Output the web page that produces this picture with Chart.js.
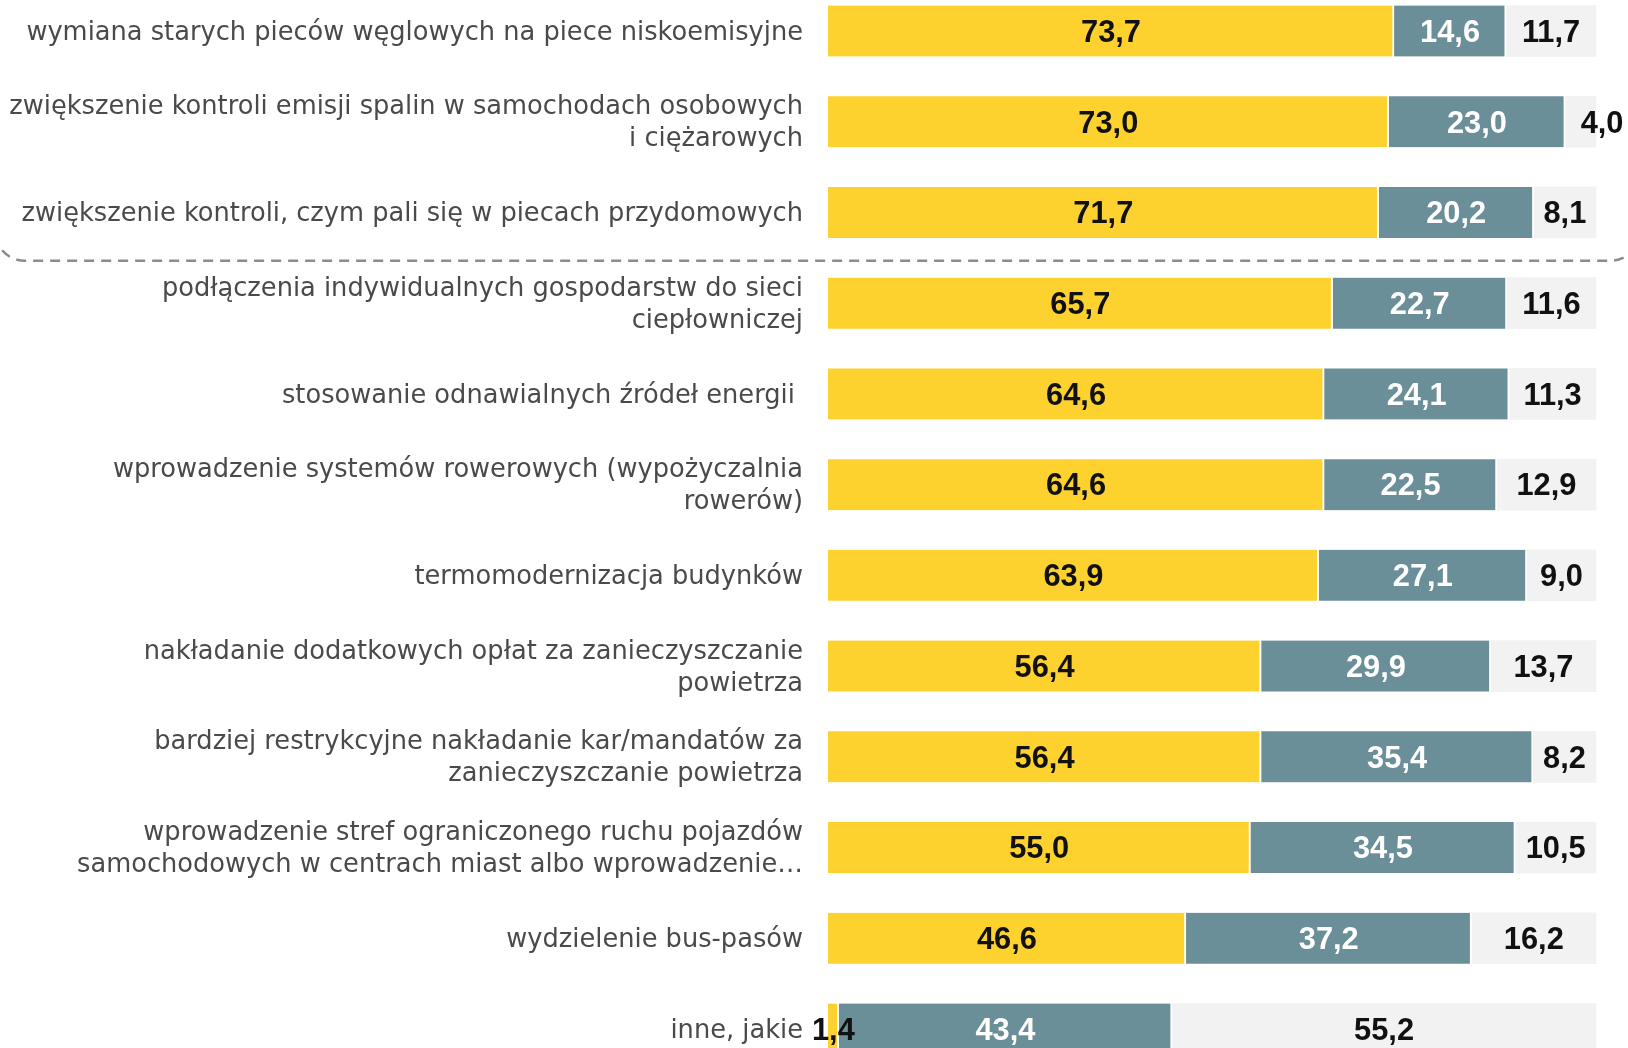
<!DOCTYPE html>
<html lang="pl">
<head>
<meta charset="utf-8">
<title>Działania na rzecz poprawy jakości powietrza</title>
<script src="https://cdn.jsdelivr.net/npm/chart.js@4.4.1/dist/chart.umd.min.js"></script>
<style>
  html, body { margin: 0; padding: 0; background: #fff; overflow: hidden; }
  #wrap { position: relative; width: 1628px; height: 1048px; }
</style>
</head>
<body>
<div id="wrap"><canvas id="myChart"></canvas></div>
<script>
// categories (multi-line labels are arrays)
const categories = [
    'wymiana starych pieców węglowych na piece niskoemisyjne',
    ['zwiększenie kontroli emisji spalin w samochodach osobowych', 'i ciężarowych'],
    'zwiększenie kontroli, czym pali się w piecach przydomowych',
    ['podłączenia indywidualnych gospodarstw do sieci', 'ciepłowniczej'],
    'stosowanie odnawialnych źródeł energii ',
    ['wprowadzenie systemów rowerowych (wypożyczalnia', 'rowerów)'],
    'termomodernizacja budynków',
    ['nakładanie dodatkowych opłat za zanieczyszczanie', 'powietrza'],
    ['bardziej restrykcyjne nakładanie kar/mandatów za', 'zanieczyszczanie powietrza'],
    ['wprowadzenie stref ograniczonego ruchu pojazdów', 'samochodowych w centrach miast albo wprowadzenie…'],
    'wydzielenie bus-pasów',
    'inne, jakie'
];

// shares in %
const seriesYellow = [73.7, 73.0, 71.7, 65.7, 64.6, 64.6, 63.9, 56.4, 56.4, 55.0, 46.6, 1.4];
const seriesBlue = [14.6, 23.0, 20.2, 22.7, 24.1, 22.5, 27.1, 29.9, 35.4, 34.5, 37.2, 43.4];
const seriesGrey = [11.7, 4.0, 8.1, 11.6, 11.3, 12.9, 9.0, 13.7, 8.2, 10.5, 16.2, 55.2];

const xTicks = [0, 100];

// size the axis labels so the widest line is ~795px
const labelFamily = '"DejaVu Sans", sans-serif';
const probe = document.createElement('canvas').getContext('2d');
probe.font = '100px ' + labelFamily;
const labelSize = Math.round(100 * 795 / probe.measureText(categories[1][0]).width * 10) / 10;

// bold numbers, "73,7" is about 60px wide
const valueFont = 'bold 32px "Liberation Sans", Arial, sans-serif';
probe.font = valueFont;
const squeeze = Math.min(1, 60 / probe.measureText('73,7').width);

// numbers inside the bars
const valueLabels = {
    id: 'valueLabels',
    afterDatasetsDraw(chart) {
        const ctx = chart.ctx;
        const last = chart.data.datasets.length - 1;
        ctx.save();
        ctx.font = valueFont;
        ctx.textBaseline = 'middle';
        ctx.textAlign = 'center';
        chart.data.datasets.forEach((ds, di) => {
            const meta = chart.getDatasetMeta(di);
            meta.data.forEach((bar, i) => {
                const text = ds.data[i].toFixed(1).replace('.', ',');
                const w = ctx.measureText(text).width * squeeze;
                let cx = (bar.x + bar.base) / 2;
                if (di === last && w > Math.abs(bar.x - bar.base)) {
                    cx += w / 2; // narrow end segment: push label to the right
                }
                ctx.save();
                ctx.translate(cx, bar.y + 2);
                ctx.scale(squeeze, 1);
                ctx.fillStyle = ds.labelColor;
                ctx.fillText(text, 0, 0);
                ctx.restore();
            });
        });
        ctx.restore();
    }
};

// dashed frame around the top three rows
const topFrame = {
    id: 'topFrame',
    afterDraw(chart) {
        const ctx = chart.ctx;
        const y = chart.scales.y;
        const lineY = (y.getPixelForValue(2) + y.getPixelForValue(3)) / 2 + 3;
        const left = -5, right = chart.width + 12, r = 30;
        ctx.save();
        ctx.strokeStyle = '#8c8c8c';
        ctx.lineWidth = 2.5;
        ctx.setLineDash([10, 7]);
        ctx.beginPath();
        ctx.moveTo(left, -20);
        ctx.lineTo(left, lineY - r);
        ctx.arcTo(left, lineY, left + r, lineY, r);
        ctx.lineTo(right - r, lineY);
        ctx.arcTo(right, lineY, right, lineY - r, r);
        ctx.lineTo(right, -20);
        ctx.stroke();
        ctx.restore();
    }
};

var ctx = document.getElementById('myChart').getContext('2d');
var chart = new Chart(ctx, {
    type: 'bar',
    data: {
        labels: categories,
        datasets: [{
            label: 'tak',
            data: seriesYellow,
            backgroundColor: '#fed22e',
            borderColor: '#ffffff',
            borderWidth: { top: 0, bottom: 0, left: 0, right: 2 },
            borderSkipped: false,
            labelColor: '#111111'
        }, {
            label: 'nie',
            data: seriesBlue,
            backgroundColor: '#6b8f99',
            borderColor: '#ffffff',
            borderWidth: { top: 0, bottom: 0, left: 0, right: 2 },
            borderSkipped: false,
            labelColor: '#ffffff'
        }, {
            label: 'trudno powiedzieć',
            data: seriesGrey,
            backgroundColor: '#f2f2f2',
            borderWidth: 0,
            labelColor: '#111111'
        }]
    },
    options: {
        indexAxis: 'y',
        responsive: true,
        maintainAspectRatio: false,
        animation: false,
        clip: false,
        barThickness: 51,
        layout: { padding: { top: 31, bottom: 19, left: 0, right: 32 } },
        plugins: {
            legend: { display: false },
            tooltip: { enabled: false }
        },
        scales: {
            x: {
                stacked: true,
                display: false,
                min: xTicks[0],
                max: xTicks[1]
            },
            y: {
                stacked: true,
                offset: false,
                grid: { display: false, drawTicks: false },
                border: { display: false },
                afterFit(scale) {
                    scale.width = 828;
                    scale.paddingTop = 0;
                    scale.paddingBottom = 0;
                },
                ticks: {
                    padding: 25,
                    labelOffset: 2,
                    autoSkip: false,
                    color: '#4a4a4a',
                    font: { family: labelFamily, size: labelSize, lineHeight: 32 / labelSize }
                }
            }
        }
    },
    plugins: [valueLabels, topFrame]
});
</script>
</body>
</html>
